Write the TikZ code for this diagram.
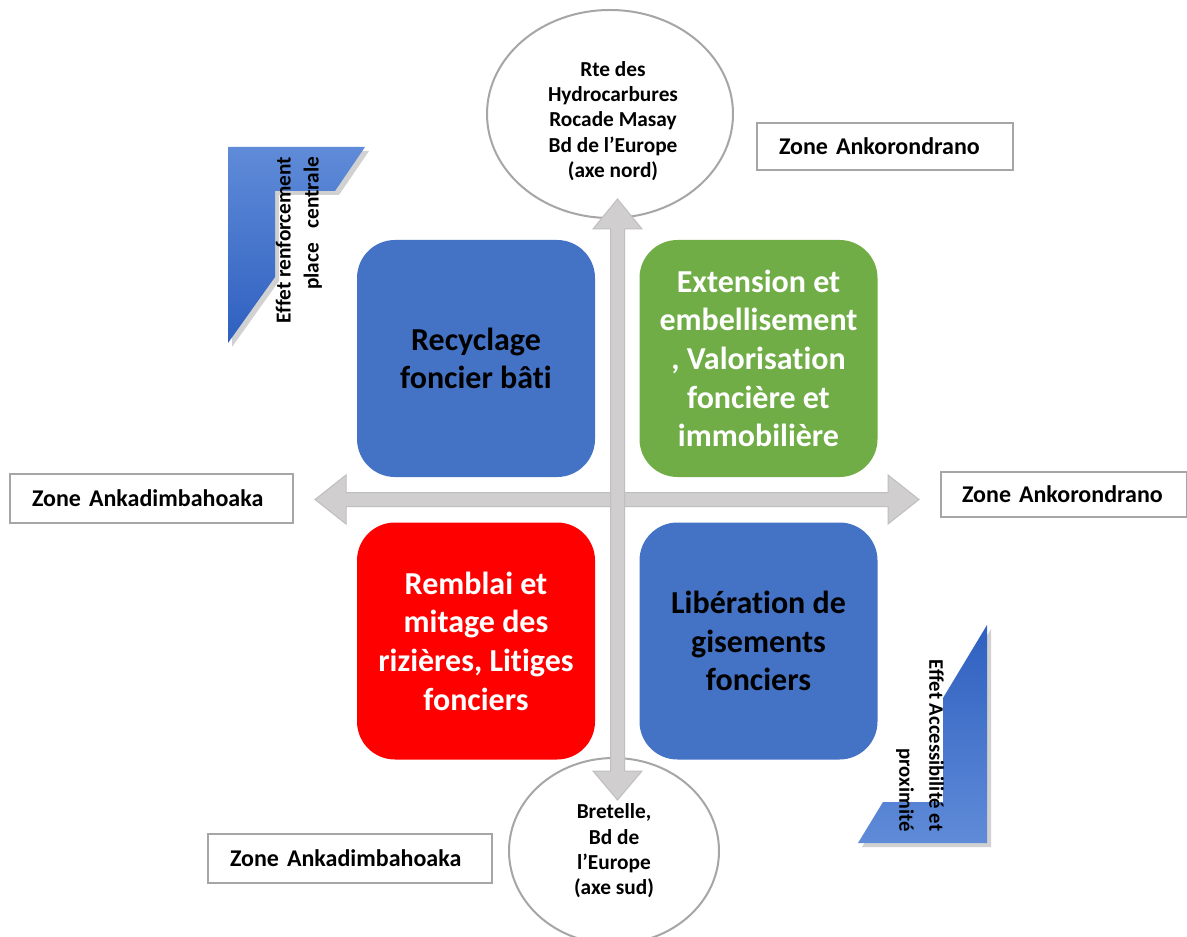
\documentclass[tikz,border=0pt]{standalone}
\usepackage{fontspec}
\setmainfont{Carlito}[Ligatures=NoCommon]
\usetikzlibrary{shapes.geometric}
\definecolor{qblue}{HTML}{4472C4}
\definecolor{qgreen}{HTML}{70AD47}
\definecolor{qred}{HTML}{FF0000}
\definecolor{arrfill}{HTML}{D0CECE}
\definecolor{arrdraw}{HTML}{BFBFBF}
\definecolor{edgegray}{HTML}{A6A6A6}
\definecolor{calllight}{HTML}{5F8BD8}
\definecolor{calldark}{HTML}{2F60C0}
\tikzset{
  quad/.style={rectangle, rounded corners=28.5pt, minimum width=178.5pt, minimum height=177.75pt,
    inner sep=0pt, align=center, font=\bfseries\fontsize{24}{29}\selectfont},
  oval/.style={ellipse, draw=edgegray, line width=1.5pt, fill=white, inner sep=0pt},
  ovaltext/.style={align=center, inner sep=0pt, font=\bfseries\fontsize{16}{19}\selectfont},
  zonebox/.style={rectangle, draw=edgegray, line width=1.5pt, fill=white, inner sep=0pt,
    align=left, font=\bfseries\fontsize{18}{20}\selectfont},
  bigarrow/.style={fill=arrfill, draw=arrdraw, line width=0.75pt},
  calltext/.style={align=right, inner sep=0pt, font=\bfseries\fontsize{16}{21}\selectfont},
}
\begin{document}
\begin{tikzpicture}[x=0.75pt, y=-0.75pt]
\useasboundingbox (0,0) rectangle (1187,937);
\fill[white] (0,0) rectangle (1187,937);

% ellipses
\node[oval, minimum width=184.5pt, minimum height=156pt] (north) at (610,114) {};
\node[ovaltext] (northtext) at (613,121) {Rte des\\Hydrocarbures\\Rocade Masay\\Bd de l’Europe\\(axe nord)};
\node[oval, minimum width=157.5pt, minimum height=139.5pt] (south) at (614,851) {};
\node[ovaltext] (southtext) at (614,851) {Bretelle,\\Bd de\\l’Europe\\(axe sud)};

% quadrant boxes
\node[quad, fill=qblue, text=black] (q1) at (476,358.5) {Recyclage\\foncier bâti};
\node[quad, fill=qgreen, text=white] (q2) at (758.5,358.5) {Extension et\\embellisement\\, Valorisation\\foncière et\\immobilière};
\node[quad, fill=qred, text=white] (q3) at (476,641) {Remblai et\\mitage des\\rizières, Litiges\\fonciers};
\node[quad, fill=qblue, text=black] (q4) at (758.5,641) {Libération de\\gisements\\fonciers};

% horizontal double arrow
\path[bigarrow] (315,499.5) -- (346,475) -- (346,492.5) -- (888,492.5) -- (888,475) -- (919,499.5)
  -- (888,524) -- (888,506.5) -- (346,506.5) -- (346,524) -- cycle;
% vertical double arrow
\path[bigarrow] (617.5,199) -- (642,229) -- (624.5,229) -- (624.5,771) -- (642,771) -- (617.5,800)
  -- (593,771) -- (610.5,771) -- (610.5,229) -- (593,229) -- cycle;

% zone labels
\node[zonebox, minimum width=192pt, minimum height=35.25pt, text width=159pt] (zne) at (885,146.5) {Zone Ankorondrano};
\node[zonebox, minimum width=212.25pt, minimum height=36.75pt, text width=179.25pt] (zw) at (151.5,498.5) {Zone Ankadimbahoaka};
\node[zonebox, minimum width=184.5pt, minimum height=33.75pt, text width=153pt] (ze) at (1064,494.5) {Zone Ankorondrano};
\node[zonebox, minimum width=213pt, minimum height=36.75pt, text width=180pt] (zsw) at (350,858.5) {Zone Ankadimbahoaka};

% left callout
\fill[black, opacity=0.18] (232,151) -- (369,151) -- (339,195) -- (279,195) -- (279,281) -- (232,347) -- cycle;
\shade[top color=calllight, bottom color=calldark] (228,147) -- (365,147) -- (335,191) -- (275,191) -- (275,277) -- (228,343) -- cycle;
\node[calltext, rotate=90] (cl) at (299,240) {Effet renforcement\\place\ \ \ centrale};

% right callout
\fill[black, opacity=0.18] (991,629) -- (991,847) -- (862,847) -- (887,806) -- (947,806) -- (947,702) -- cycle;
\shade[top color=calldark, bottom color=calllight] (987,625) -- (987,843) -- (858,843) -- (883,802) -- (943,802) -- (943,698) -- cycle;
\node[calltext, rotate=-90, font=\bfseries\fontsize{15.5}{22.5}\selectfont] (cr) at (920,745.5) {Effet Accessibilité et\\proximité};
\end{tikzpicture}
\end{document}
